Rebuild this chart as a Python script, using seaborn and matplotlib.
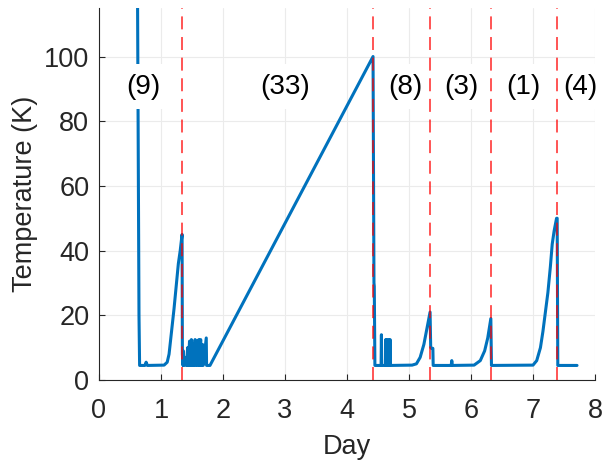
import numpy as np
import pandas as pd
import matplotlib
matplotlib.use("Agg")
import matplotlib.pyplot as plt
import seaborn as sns

# ---- data ----
day = [0.62, 0.645, 0.655, 0.74, 0.76, 0.78, 1.05, 1.10, 1.13, 1.17, 1.21, 1.25, 1.28, 1.31, 1.34,
       1.345, 1.355, 1.36, 1.365, 1.37, 1.40, 1.405, 1.41, 1.43, 1.435, 1.44, 1.46, 1.465, 1.47,
       1.49, 1.495, 1.50, 1.52, 1.525, 1.53, 1.55, 1.555, 1.56, 1.58, 1.585, 1.59, 1.61, 1.615, 1.62,
       1.64, 1.645, 1.65, 1.67, 1.675, 1.68, 1.73, 1.735, 1.74, 1.79,
       4.42, 4.435, 4.44, 4.45, 4.55, 4.555, 4.56, 4.62, 4.625, 4.63, 4.64, 4.645, 4.65,
       4.67, 4.675, 4.68, 4.69, 4.695, 4.70,
       5.05, 5.12, 5.18, 5.24, 5.29, 5.34, 5.35, 5.36, 5.385, 5.39,
       5.68, 5.69, 5.70, 6.05, 6.15, 6.22, 6.27, 6.32, 6.33,
       7.00, 7.06, 7.12, 7.16, 7.20, 7.24, 7.28, 7.31, 7.34, 7.38, 7.39, 7.40, 7.71]
temp = [125, 20, 4.5, 4.5, 5.5, 4.5, 4.6, 5.5, 8, 15, 22, 30, 36, 40, 45,
        8, 4.5, 9, 4.5, 4.5, 7, 4.5, 4.5, 10, 4.5, 4.5, 12, 4.5, 4.5,
        12.5, 4.5, 4.5, 11, 4.5, 4.5, 12.5, 4.5, 4.5, 12, 4.5, 4.5, 12.5, 4.5, 4.5,
        12.5, 4.5, 4.5, 11, 4.5, 4.5, 13, 4.5, 4.5, 4.5,
        100, 30, 29, 4.5, 4.5, 14, 4.5, 4.5, 12.5, 4.5, 4.5, 12.5, 4.5,
        4.5, 12.5, 4.5, 4.5, 12.5, 4.5,
        4.6, 5, 7, 11, 16, 21, 10, 9.8, 9.8, 4.5,
        4.5, 6, 4.5, 4.6, 6, 9, 13, 19, 4.5,
        4.6, 6, 10, 15, 21, 27, 35, 42, 46, 50, 50, 4.5, 4.5]

event_days = [1.34, 4.42, 5.34, 6.32, 7.39]
label_texts = ["(9)", "(33)", "(8)", "(3)", "(1)", "(4)"]
label_days = [0.71, 3.0, 4.94, 5.84, 6.85, 7.76]
label_temp = 90.7

df = pd.DataFrame({"Day": day, "Temperature": temp})

sns.set_theme(style="white")
plt.rcParams["font.family"] = ["Liberation Sans", "DejaVu Sans"]

fig = plt.figure(figsize=(6.03, 4.66), dpi=100)
ax = fig.add_axes([99 / 603, 86 / 466, 496 / 603, 372 / 466])

sns.lineplot(data=df, x="Day", y="Temperature", ax=ax, color="#0072BD",
             linewidth=2.2, sort=False, estimator=None, zorder=2)

for d in event_days:
    ax.axvline(d, color="#FF0000", linestyle=(0, (8.5, 5)), linewidth=1.1, zorder=4, alpha=0.85)

for t, d in zip(label_texts, label_days):
    ax.text(d, label_temp, t, ha="center", va="center", fontsize=20, color="black", zorder=3,
            bbox=dict(facecolor="white", edgecolor="none", pad=7))

ax.set_xlim(0, 8)
ax.set_ylim(0, 115)
ax.set_xticks(range(0, 9))
ax.set_yticks(range(0, 101, 20))
ax.grid(True, color="#ebebeb", linewidth=0.8)
ax.set_axisbelow(True)

for s in ["top", "right"]:
    ax.spines[s].set_visible(False)
for s in ["left", "bottom"]:
    ax.spines[s].set_color("#262626")
    ax.spines[s].set_linewidth(0.8)

ax.tick_params(axis="both", direction="in", length=4, width=0.8, color="#262626",
               labelsize=19.5, labelcolor="#262626", bottom=True, left=True)
ax.tick_params(axis="x", pad=13)
ax.tick_params(axis="y", pad=7)
ax.set_xlabel("Day", fontsize=19.5, color="#262626", labelpad=7)
ax.set_ylabel("Temperature (K)", fontsize=19.5, color="#262626", labelpad=4)

fig.savefig("out.png", dpi=100)
